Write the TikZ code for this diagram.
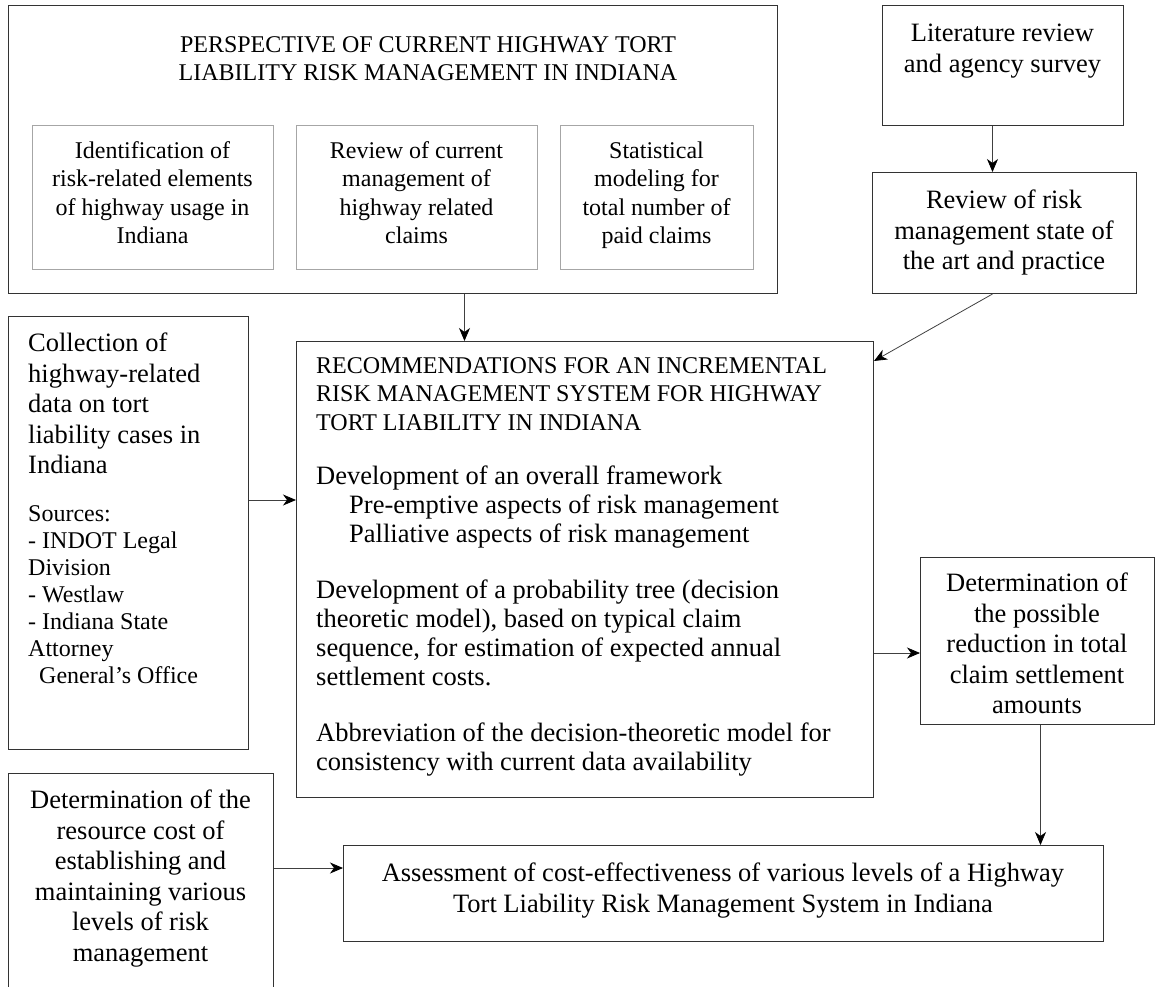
\documentclass[tikz,border=0pt]{standalone}
\usepackage{fontspec}
\setmainfont{Liberation Serif}
\usetikzlibrary{arrows.meta,calc}

\tikzset{
  frame/.style={draw=black!80, line width=1pt, inner sep=0pt, anchor=north west},
  subframe/.style={draw=black!35, line width=1pt, inner sep=0pt, anchor=north west},
  txt/.style={inner sep=0pt, font=\fontsize{24}{28.5}\selectfont, align=center, anchor=north},
  bigtxt/.style={inner sep=0pt, font=\fontsize{26.5}{30.5}\selectfont, align=center, anchor=north},
  arr/.style={draw=black!75, line width=0.8pt,
    -{Stealth[length=13pt,width=11pt,inset=4pt,color=black]}},
}

\begin{document}
\begin{tikzpicture}[x=1pt,y=-1pt]
\useasboundingbox (0,0) rectangle (1156,987);
\clip (0,0) rectangle (1156,987);

% frames
\node[frame, minimum width=769pt, minimum height=288pt] (persp) at (8,5) {};
\node[subframe, minimum width=241pt, minimum height=144pt] (ident) at (32,125) {};
\node[subframe, minimum width=241pt, minimum height=144pt] (claims) at (296,125) {};
\node[subframe, minimum width=193pt, minimum height=144pt] (stat) at (560,125) {};
\node[frame, minimum width=241pt, minimum height=120pt] (lit) at (882,5) {};
\node[frame, minimum width=264pt, minimum height=121pt] (rev) at (872,172) {};
\node[frame, minimum width=240pt, minimum height=433pt] (coll) at (8,316) {};
\node[frame, minimum width=577pt, minimum height=456pt] (rec) at (296,341) {};
\node[frame, minimum width=234pt, minimum height=167pt] (red) at (920,557) {};
\node[frame, minimum width=265pt, minimum height=240pt] (cost) at (8,773) {};
\node[frame, minimum width=760pt, minimum height=96pt] (assess) at (343,845) {};

% texts
\node[txt] (perspT) at (428,32) {\strut PERSPECTIVE OF CURRENT HIGHWAY TORT\\LIABILITY RISK MANAGEMENT IN INDIANA};
\node[txt] (identT) at (152.5,138) {\strut Identification of\\risk-related elements\\of highway usage in\\Indiana};
\node[txt] (claimsT) at (416.5,138) {\strut Review of current\\management of\\highway related\\claims};
\node[txt] (statT) at (656.5,138) {\strut Statistical\\modeling for\\total number of\\paid claims};
\node[bigtxt] (litT) at (1002.5,20) {\strut Literature review\\and agency survey};
\node[bigtxt] (revT) at (1004,187) {\strut Review of risk\\management state of\\the art and practice};
\node[bigtxt, align=left, anchor=north west] (collT) at (28,330) {\strut Collection of\\highway-related\\data on tort\\liability cases in\\Indiana};
\node[inner sep=0pt, font=\fontsize{24}{27}\selectfont, align=left, anchor=north west] (srcT) at (28,502) {\strut Sources:\\- INDOT Legal\\Division\\- Westlaw\\- Indiana State\\Attorney\\\hspace*{11pt}General's Office};
\node[txt, align=left, anchor=north west] (recT) at (316,353) {\strut RECOMMENDATIONS FOR AN INCREMENTAL\\RISK MANAGEMENT SYSTEM FOR HIGHWAY\\TORT LIABILITY IN INDIANA};
\node[inner sep=0pt, font=\fontsize{26.5}{29}\selectfont, align=left, anchor=north west] (recB) at (316,464) {\strut Development of an overall framework\\
\hspace*{33pt}Pre-emptive aspects of risk management\\
\hspace*{33pt}Palliative aspects of risk management\\[27pt]
Development of a probability tree (decision\\theoretic model), based on typical claim\\sequence, for estimation of expected annual\\settlement costs.\\[27pt]
Abbreviation of the decision-theoretic model for\\consistency with current data availability};
\node[bigtxt] (redT) at (1037,570) {\strut Determination of\\the possible\\reduction in total\\claim settlement\\amounts};
\node[bigtxt] (costT) at (140.5,787) {\strut Determination of the\\resource cost of\\establishing and\\maintaining various\\levels of risk\\management};
\node[bigtxt] (assessT) at (723,860) {\strut Assessment of cost-effectiveness of various levels of a Highway\\Tort Liability Risk Management System in Indiana};

% connectors
\draw[arr] ($(persp.south)+(71.5,0)$) -- ($(rec.north)+(-120.5,0)$);
\draw[arr] ($(lit.south)+(-10.5,0)$) -- ($(rev.north)+(-12,0)$);
\draw[arr] ($(rev.south)+(-12,0)$) -- ($(rec.north east)+(0,20)$);
\draw[arr] ($(coll.north east)+(0,184)$) -- ($(rec.north west)+(0,159)$);
\draw[arr] ($(rec.north east)+(0,312)$) -- ($(red.north west)+(0,96)$);
\draw[arr] ($(red.south)+(3,0)$) -- ($(assess.north)+(317,0)$);
\draw[arr] ($(cost.north east)+(0,95)$) -- ($(assess.north west)+(0,23)$);
\end{tikzpicture}
\end{document}
